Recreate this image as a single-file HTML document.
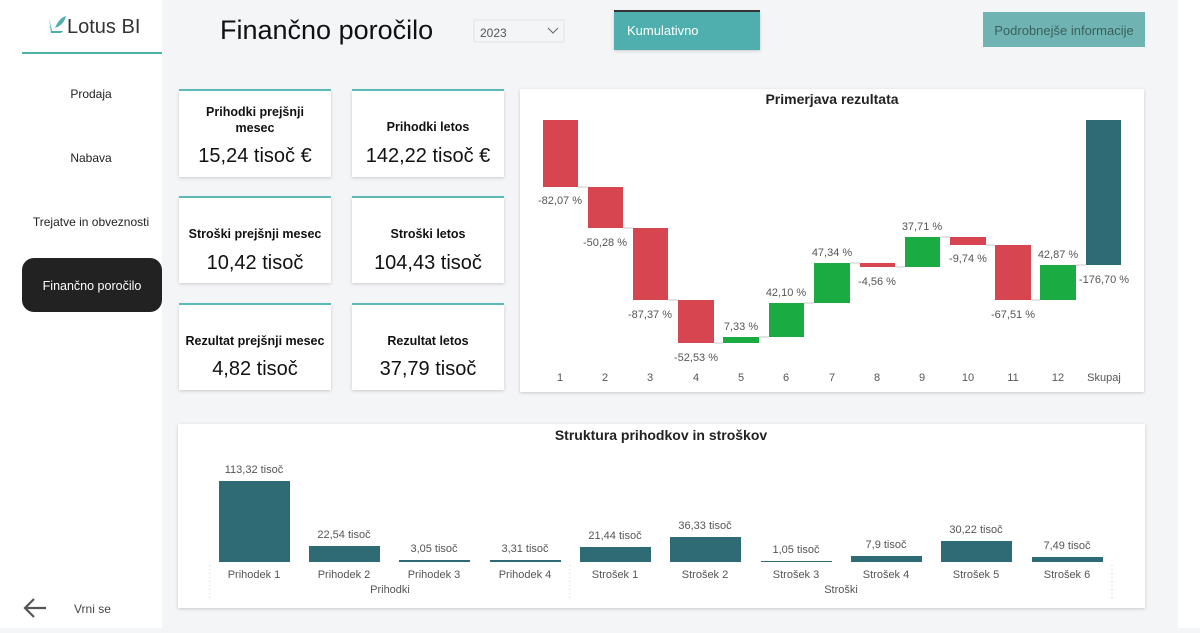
<!DOCTYPE html>
<html><head><meta charset="utf-8"><style>
body{margin:0;width:1200px;height:628px;overflow:hidden;background:#f4f5f7;font-family:"Liberation Sans",sans-serif}
svg text{font-family:"Liberation Sans",sans-serif}
</style></head><body>
<svg width="1200" height="628" viewBox="0 0 1200 628" xmlns="http://www.w3.org/2000/svg">
<defs><filter id="sh" x="-5%" y="-5%" width="110%" height="115%"><feDropShadow dx="0" dy="1" stdDeviation="1.5" flood-color="#000" flood-opacity="0.18"/></filter></defs>
<rect width="1200" height="628" fill="#f4f5f7"/>
<rect x="1178" y="0" width="22" height="628" fill="#fff"/>
<!-- sidebar -->
<rect x="0" y="0" width="162" height="628" fill="#fff"/>
<path d="M49 18 l3 13 h11 l-2 2 h-10 z" fill="#4db0ad"/>
<path d="M55 28 q4 -10 11 -12 q-2 9 -11 12z" fill="#4db0ad"/>
<text x="67" y="33" font-size="20" fill="#333">Lotus BI</text>
<rect x="22" y="52" width="140" height="2" fill="#4db0ad"/>
<text x="91" y="98" font-size="12" fill="#222" text-anchor="middle">Prodaja</text>
<text x="91" y="162" font-size="12" fill="#222" text-anchor="middle">Nabava</text>
<text x="91" y="226" font-size="12" fill="#222" text-anchor="middle">Trejatve in obveznosti</text>
<rect x="22" y="258" width="140" height="54" rx="12" fill="#222"/>
<text x="92" y="290" font-size="12.5" fill="#fff" text-anchor="middle">Finančno poročilo</text>
<path d="M46 608 H26 M34 599 L25 608 L34 617" stroke="#555" stroke-width="2.2" fill="none"/>
<text x="74" y="613" font-size="12" fill="#444">Vrni se</text>
<!-- header -->
<text x="220" y="39" font-size="27" fill="#111">Finančno poročilo</text>
<rect x="474" y="20" width="90" height="22" fill="#f4f5f7" stroke="#e3e4e6"/>
<text x="480" y="37" font-size="12" fill="#555">2023</text>
<path d="M548 28 l5 5 l5 -5" stroke="#666" fill="none"/>
<rect x="614" y="12" width="146" height="38" fill="#50afae" filter="url(#sh)"/>
<rect x="614" y="10" width="146" height="2" fill="#333"/>
<text x="627" y="35" font-size="13" fill="#fff">Kumulativno</text>
<rect x="983" y="12" width="162" height="35" fill="#6fb4b2"/>
<text x="1064" y="35" font-size="13" fill="#3b5f5f" text-anchor="middle">Podrobnejše informacije</text>
<!-- cards -->
<g filter="url(#sh)" fill="#fff">
<rect x="179" y="90" width="152" height="87"/><rect x="352" y="90" width="152" height="87"/>
<rect x="179" y="197" width="152" height="86"/><rect x="352" y="197" width="152" height="86"/>
<rect x="179" y="304" width="152" height="86"/><rect x="352" y="304" width="152" height="86"/>
<rect x="520" y="89" width="624" height="303"/>
<rect x="178" y="424" width="967" height="184"/>
</g>
<g fill="#5bbab8">
<rect x="179" y="89" width="152" height="2"/><rect x="352" y="89" width="152" height="2"/>
<rect x="179" y="196" width="152" height="2"/><rect x="352" y="196" width="152" height="2"/>
<rect x="179" y="303" width="152" height="2"/><rect x="352" y="303" width="152" height="2"/>
</g>
<g text-anchor="middle" fill="#111">
<text x="255" y="116" font-size="12.5" font-weight="bold">Prihodki prejšnji</text>
<text x="255" y="132" font-size="12.5" font-weight="bold">mesec</text>
<text x="255" y="162" font-size="20">15,24 tisoč €</text>
<text x="428" y="131" font-size="12.5" font-weight="bold">Prihodki letos</text>
<text x="428" y="162" font-size="20">142,22 tisoč €</text>
<text x="255" y="238" font-size="12.5" font-weight="bold">Stroški prejšnji mesec</text>
<text x="255" y="269" font-size="20">10,42 tisoč</text>
<text x="428" y="238" font-size="12.5" font-weight="bold">Stroški letos</text>
<text x="428" y="269" font-size="20">104,43 tisoč</text>
<text x="255" y="345" font-size="12.5" font-weight="bold">Rezultat prejšnji mesec</text>
<text x="255" y="375" font-size="20">4,82 tisoč</text>
<text x="428" y="345" font-size="12.5" font-weight="bold">Rezultat letos</text>
<text x="428" y="375" font-size="20">37,79 tisoč</text>
</g>
<!-- waterfall -->
<text x="832" y="104" font-size="14" font-weight="bold" text-anchor="middle" fill="#222">Primerjava rezultata</text>
<g stroke="#c8c8c8" stroke-width="1">
<path d="M578 187H588M623 228H633M668 300H678M714 343H723M759 337H769M804 303H814M850 263H860M895 267H905M940 237H950M986 245H995M1031 300H1040M1076 265H1086"/>
</g>
<g fill="#d64550">
<rect x="543" y="120" width="35" height="67"/><rect x="588" y="187" width="35" height="41"/>
<rect x="633" y="228" width="35" height="72"/><rect x="678" y="300" width="36" height="43"/>
<rect x="860" y="263" width="35" height="4"/><rect x="950" y="237" width="36" height="8"/>
<rect x="995" y="245" width="36" height="55"/>
</g>
<g fill="#1aab42">
<rect x="723" y="337" width="36" height="6"/><rect x="769" y="303" width="35" height="34"/>
<rect x="814" y="263" width="36" height="40"/><rect x="905" y="237" width="35" height="30"/>
<rect x="1040" y="265" width="36" height="35"/>
</g>
<rect x="1086" y="120" width="35" height="145" fill="#2f6b74"/>
<g font-size="11" fill="#555" text-anchor="middle">
<text x="560" y="204">-82,07 %</text><text x="605" y="246">-50,28 %</text>
<text x="650" y="318">-87,37 %</text><text x="696" y="361">-52,53 %</text>
<text x="741" y="330">7,33 %</text><text x="786" y="296">42,10 %</text>
<text x="832" y="256">47,34 %</text><text x="877" y="285">-4,56 %</text>
<text x="922" y="230">37,71 %</text><text x="968" y="262">-9,74 %</text>
<text x="1013" y="318">-67,51 %</text><text x="1058" y="258">42,87 %</text>
<text x="1104" y="283">-176,70 %</text>
<text x="560" y="381">1</text><text x="605" y="381">2</text><text x="650" y="381">3</text>
<text x="696" y="381">4</text><text x="741" y="381">5</text><text x="786" y="381">6</text>
<text x="832" y="381">7</text><text x="877" y="381">8</text><text x="922" y="381">9</text>
<text x="968" y="381">10</text><text x="1013" y="381">11</text><text x="1058" y="381">12</text>
<text x="1104" y="381">Skupaj</text>
</g>
<!-- bottom chart -->
<text x="661" y="440" font-size="14" font-weight="bold" text-anchor="middle" fill="#222">Struktura prihodkov in stroškov</text>
<g fill="#2f6b74">
<rect x="219" y="481" width="71" height="81"/><rect x="309" y="546" width="71" height="16"/>
<rect x="399" y="560" width="71" height="2"/><rect x="490" y="560" width="71" height="2"/>
<rect x="580" y="547" width="71" height="15"/><rect x="670" y="537" width="71" height="25"/>
<rect x="761" y="561" width="71" height="1"/><rect x="851" y="556" width="71" height="6"/>
<rect x="941" y="541" width="71" height="21"/><rect x="1032" y="557" width="71" height="5"/>
</g>
<g stroke="#ccc" stroke-dasharray="1 3"><path d="M210 565V598M570 565V598M1112 565V598"/></g>
<g font-size="11" fill="#555" text-anchor="middle">
<text x="254" y="473">113,32 tisoč</text><text x="344" y="538">22,54 tisoč</text>
<text x="434" y="552">3,05 tisoč</text><text x="525" y="552">3,31 tisoč</text>
<text x="615" y="539">21,44 tisoč</text><text x="705" y="529">36,33 tisoč</text>
<text x="796" y="553">1,05 tisoč</text><text x="886" y="548">7,9 tisoč</text>
<text x="976" y="533">30,22 tisoč</text><text x="1067" y="549">7,49 tisoč</text>
<text x="254" y="578">Prihodek 1</text><text x="344" y="578">Prihodek 2</text>
<text x="434" y="578">Prihodek 3</text><text x="525" y="578">Prihodek 4</text>
<text x="615" y="578">Strošek 1</text><text x="705" y="578">Strošek 2</text>
<text x="796" y="578">Strošek 3</text><text x="886" y="578">Strošek 4</text>
<text x="976" y="578">Strošek 5</text><text x="1067" y="578">Strošek 6</text>
<text x="390" y="593">Prihodki</text><text x="841" y="593">Stroški</text>
</g>
</svg>
</body></html>
